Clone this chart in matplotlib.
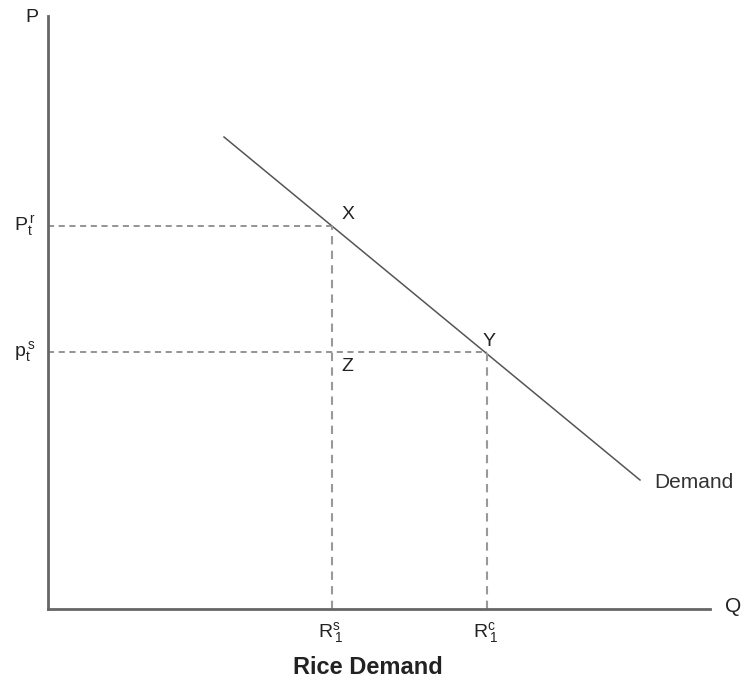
#!/usr/bin/env python3
"""
Rice demand diagram: demand curve with two price/quantity points.
"""
import matplotlib
matplotlib.use("Agg")
import matplotlib.pyplot as plt

# Demand curve end points (quantity, price) in chart units
demand_q = [176, 592]
demand_p = [472, 129]

# Points on the curve
point_names = ["X", "Y"]
point_q = [284, 439]
point_p = [383, 257]

# Axis labels for the points
price_labels = [r"P$\mathregular{_t^{\,r}}$", r"p$\mathregular{_t^{\,s}}$"]
quantity_labels = [r"R$\mathregular{^s_{\,1}}$", r"R$\mathregular{^c_{\,1}}$"]

plt.rcParams["font.family"] = ["Liberation Sans", "DejaVu Sans"]

fig = plt.figure(figsize=(7.46, 6.85), dpi=100)
W, H = 746, 685
ax = fig.add_axes([48 / W, (H - 609) / H, (710 - 48) / W, (609 - 16) / H])
ax.set_xlim(0, 662)
ax.set_ylim(0, 593)

for side in ["top", "right"]:
    ax.spines[side].set_visible(False)
for side in ["left", "bottom"]:
    ax.spines[side].set_color("#666666")
    ax.spines[side].set_linewidth(2)
ax.set_xticks([])
ax.set_yticks([])

# Demand curve
ax.plot(demand_q, demand_p, color="#555555", linewidth=1.1)

# Dashed guide lines
for q, p in zip(point_q, point_p):
    ax.plot([0, q], [p, p], color="#777777", linestyle=(0, (4, 3)), linewidth=1.1)
    ax.plot([q, q], [0, p], color="#999999", linestyle=(0, (4, 3)), linewidth=1.5)

fs = 14
# Point labels
ax.text(point_q[0] + 10, point_p[0] + 3, point_names[0], fontsize=fs,
        ha="left", va="bottom", color="#222222")
ax.text(point_q[1] - 4, point_p[1] + 2, point_names[1], fontsize=fs,
        ha="left", va="bottom", color="#222222")
ax.text(point_q[0] + 9, point_p[1] - 6, "Z", fontsize=fs,
        ha="left", va="top", color="#222222")

# Price labels on the y-axis
for p, lab in zip(point_p, price_labels):
    ax.text(-34, p, lab, fontsize=fs, ha="left", va="center", color="#222222")

# Quantity labels on the x-axis
for q, lab in zip(point_q, quantity_labels):
    ax.text(q - 14, -11, lab, fontsize=fs, ha="left", va="top", color="#222222")

ax.text(demand_q[1] + 14, demand_p[1] - 3, "Demand", fontsize=fs + 1,
        ha="left", va="center", color="#333333")

# Axis names
ax.text(-23, 591, "P", fontsize=fs, ha="left", va="center", color="#222222")
ax.text(677, 2, "Q", fontsize=fs + 1, ha="left", va="center", color="#222222")

ax.text(320, -58, "Rice Demand", fontsize=17, fontweight="bold",
        ha="center", va="center", color="#222222")

fig.savefig("out.png", dpi=100)
